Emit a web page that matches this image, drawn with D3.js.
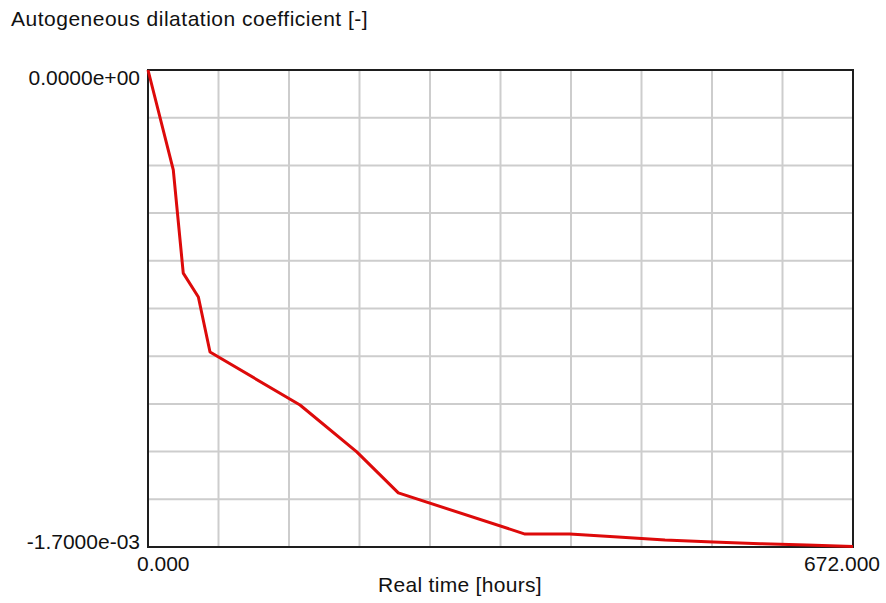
<!DOCTYPE html>
<html>
<head>
<meta charset="utf-8">
<script src="https://cdn.jsdelivr.net/npm/d3@7/dist/d3.min.js"></script>
<style>
  html, body { margin: 0; padding: 0; background: #ffffff; }
  svg { display: block; }
  text { font-family: "Liberation Sans", Arial, sans-serif; fill: #111; }
</style>
</head>
<body>
<svg id="chart" width="886" height="603"></svg>
<script>
// Real time [hours]
const timeHours = [0, 24.1, 33.6, 48, 59.1, 144.9, 199, 238.6, 359.4, 402, 448, 492.8, 538.6, 583.4, 628, 672];
// Autogeneous dilatation coefficient [-]
const dilatation = [0, -3.56e-4, -7.24e-4, -8.09e-4, -1.005e-3, -1.194e-3, -1.361e-3, -1.507e-3,
                    -1.654e-3, -1.654e-3, -1.664e-3, -1.675e-3, -1.682e-3, -1.688e-3, -1.693e-3, -1.698e-3];
const xDomain = [0, 672];
const yDomain = [-1.7e-3, 0];
const xTickLabels = ["0.000", "672.000"];
const yTickLabels = ["0.0000e+00", "-1.7000e-03"];
const gridDivisions = 10;

const svg = d3.select("#chart");
const plot = { left: 148, right: 853, top: 70, bottom: 547 };

const x = d3.scaleLinear().domain(xDomain).range([plot.left, plot.right]);
const y = d3.scaleLinear().domain(yDomain).range([plot.bottom, plot.top]);

// grid
const xGrid = d3.range(1, gridDivisions).map(i => xDomain[0] + (xDomain[1] - xDomain[0]) * i / gridDivisions);
const yGrid = d3.range(1, gridDivisions).map(i => yDomain[0] + (yDomain[1] - yDomain[0]) * i / gridDivisions);

svg.append("g").selectAll("line").data(xGrid).join("line")
  .attr("x1", d => x(d)).attr("x2", d => x(d))
  .attr("y1", plot.top).attr("y2", plot.bottom)
  .attr("stroke", "#cdcdcd").attr("stroke-width", 2);

svg.append("g").selectAll("line").data(yGrid).join("line")
  .attr("x1", plot.left).attr("x2", plot.right)
  .attr("y1", d => y(d)).attr("y2", d => y(d))
  .attr("stroke", "#cdcdcd").attr("stroke-width", 2);

// frame
svg.append("rect")
  .attr("x", plot.left).attr("y", plot.top)
  .attr("width", plot.right - plot.left).attr("height", plot.bottom - plot.top)
  .attr("fill", "none").attr("stroke", "#1e1e1e").attr("stroke-width", 2);

// curve
const line = d3.line().x((d, i) => x(timeHours[i])).y(d => y(d));
svg.append("path")
  .datum(dilatation)
  .attr("d", line)
  .attr("fill", "none")
  .attr("stroke", "#dd0a0a")
  .attr("stroke-width", 3)
  .attr("stroke-linejoin", "round");

// texts
svg.append("text")
  .attr("x", 11).attr("y", 26)
  .attr("font-size", 21).attr("letter-spacing", 0.5)
  .text("Autogeneous dilatation coefficient [-]");

svg.append("text")
  .attr("x", 140).attr("y", y(yDomain[1]) + 15)
  .attr("text-anchor", "end").attr("font-size", 21)
  .text(yTickLabels[0]);

svg.append("text")
  .attr("x", 140).attr("y", y(yDomain[0]) + 2)
  .attr("text-anchor", "end").attr("font-size", 21)
  .text(yTickLabels[1]);

svg.append("text")
  .attr("x", x(xDomain[0]) - 11).attr("y", plot.bottom + 24)
  .attr("text-anchor", "start").attr("font-size", 21)
  .text(xTickLabels[0]);

svg.append("text")
  .attr("x", x(xDomain[1]) + 27).attr("y", plot.bottom + 24)
  .attr("text-anchor", "end").attr("font-size", 21)
  .text(xTickLabels[1]);

svg.append("text")
  .attr("x", 460).attr("y", 592)
  .attr("text-anchor", "middle").attr("font-size", 21).attr("letter-spacing", 0.3)
  .text("Real time [hours]");
</script>
</body>
</html>
